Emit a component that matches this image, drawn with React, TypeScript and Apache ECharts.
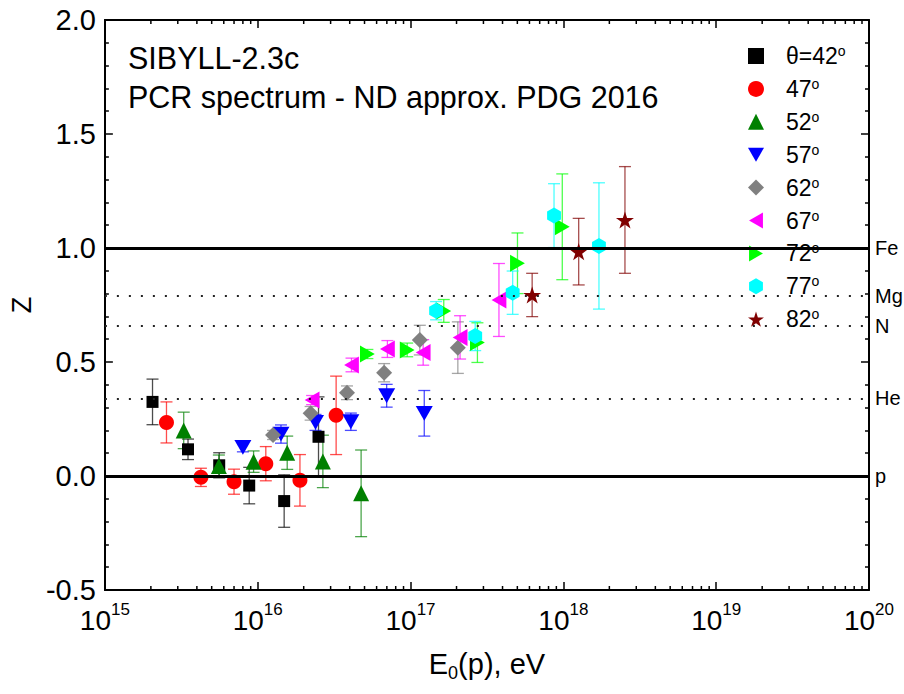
import React, { useEffect, useRef } from 'react';
import * as echarts from 'echarts';

const FONT = '"Liberation Sans", Arial, Helvetica, sans-serif';

// Axis ranges
const X_MIN = 1e15;
const X_MAX = 1e20;
const Y_MIN = -0.5;
const Y_MAX = 2.0;

// Zenith-angle groups
const angleNames = ['θ=42°', '47°', '52°', '57°', '62°', '67°', '72°', '77°', '82°'];

// Primary energy E0 (eV), mean Z and its uncertainty for each zenith angle
const e42 = [2.05e15, 3.5e15, 5.6e15, 8.8e15, 1.49e16, 2.5e16];
const z42 = [0.325, 0.117, 0.047, -0.042, -0.11, 0.172];
const d42 = [0.1, 0.045, 0.055, 0.08, 0.115, 0.175];

const e47 = [2.53e15, 4.25e15, 7.0e15, 1.13e16, 1.89e16, 3.26e16];
const z47 = [0.235, -0.006, -0.025, 0.054, -0.019, 0.266];
const d47 = [0.09, 0.04, 0.055, 0.075, 0.113, 0.172];

const e52 = [3.28e15, 5.57e15, 9.4e15, 1.56e16, 2.67e16, 4.75e16];
const z52 = [0.2, 0.044, 0.063, 0.102, 0.064, -0.076];
const d52 = [0.08, 0.048, 0.047, 0.073, 0.115, 0.19];

const e57 = [8.0e15, 1.42e16, 2.39e16, 4.07e16, 6.98e16, 1.23e17];
const z57 = [0.126, 0.184, 0.235, 0.238, 0.352, 0.275];
const d57 = [0.02, 0.04, 0.035, 0.038, 0.05, 0.1];

const e62 = [1.26e16, 2.22e16, 3.84e16, 6.72e16, 1.15e17, 2.04e17];
const z62 = [0.18, 0.275, 0.365, 0.453, 0.596, 0.563];
const d62 = [0.02, 0.03, 0.03, 0.04, 0.065, 0.113];

const e67 = [2.27e16, 4.11e16, 7.06e16, 1.21e17, 2.11e17, 3.79e17];
const z67 = [0.333, 0.487, 0.557, 0.542, 0.608, 0.772];
const d67 = [0.02, 0.03, 0.037, 0.056, 0.095, 0.16];

const e72 = [5.22e16, 9.51e16, 1.65e17, 2.74e17, 5.01e17, 9.84e17];
const z72 = [0.535, 0.553, 0.724, 0.585, 0.933, 1.093];
const d72 = [0.02, 0.03, 0.05, 0.087, 0.133, 0.232];

const e77 = [1.47e17, 2.65e17, 4.66e17, 8.69e17, 1.71e18];
const z77 = [0.725, 0.614, 0.804, 1.142, 1.009];
const d77 = [0.04, 0.064, 0.095, 0.14, 0.277];

const e82 = [6.25e17, 1.26e18, 2.53e18];
const z82 = [0.794, 0.984, 1.123];
const d82 = [0.095, 0.146, 0.234];

const energies = [e42, e47, e52, e57, e62, e67, e72, e77, e82];
const zValues = [z42, z47, z52, z57, z62, z67, z72, z77, z82];
const zErrors = [d42, d47, d52, d57, d62, d67, d72, d77, d82];

// Reference nuclei: Z = ln A / ln 56
const nucleusNames = ['Fe', 'Mg', 'N', 'He', 'p'];
const nucleusZ = [1.0, 0.7895, 0.6556, 0.3444, 0.0];

// Marker shapes per angle group
const TRI_DOWN = 'path://M0,0 L100,0 L50,87 Z';
const TRI_LEFT = 'path://M87,0 L87,100 L0,50 Z';
const TRI_RIGHT = 'path://M0,0 L0,100 L87,50 Z';
const HEXAGON = 'path://M50,0 L93.3,25 L93.3,75 L50,100 L6.7,75 L6.7,25 Z';
const STAR = 'path://M50,0 L61.2,34.5 L97.6,34.5 L68.2,55.9 L79.4,90.5 L50,69.1 L20.6,90.5 L31.8,55.9 L2.4,34.5 L38.8,34.5 Z';
const markerColors = ['#000000', '#ff0000', '#008000', '#0000ff', '#808080', '#ff00ff', '#00ff00', '#00ffff', '#800000'];
const markerSymbols = ['rect', 'circle', 'triangle', TRI_DOWN, 'diamond', TRI_LEFT, TRI_RIGHT, HEXAGON, STAR];
const markerSizes = [12, 15, 16, 17, 16, 17, 17, 16, 18];

// Logarithmic minor ticks (2..9 × 10^n)
const minorTickValues: number[] = [];
for (let p = 15; p < 20; p++) {
  for (let m = 2; m <= 9; m++) minorTickValues.push(m * Math.pow(10, p));
}

function buildOption() {
  const errorSeries = energies.map((es, i) => ({
    type: 'custom',
    name: 'err-' + i,
    z: 2,
    silent: true,
    data: es.map((x, j) => [x, zValues[i][j], zErrors[i][j]]),
    renderItem: (_params: any, api: any) => {
      const x = api.value(0);
      const y = api.value(1);
      const d = api.value(2);
      const top = api.coord([x, y + d]);
      const bot = api.coord([x, y - d]);
      const w = 6;
      const style = { stroke: markerColors[i], lineWidth: 1.3, opacity: 0.7 };
      return {
        type: 'group',
        children: [
          { type: 'line', shape: { x1: top[0], y1: top[1], x2: bot[0], y2: bot[1] }, style },
          { type: 'line', shape: { x1: top[0] - w, y1: top[1], x2: top[0] + w, y2: top[1] }, style },
          { type: 'line', shape: { x1: bot[0] - w, y1: bot[1], x2: bot[0] + w, y2: bot[1] }, style },
        ],
      };
    },
  }));

  const pointSeries = energies.map((es, i) => ({
    type: 'scatter',
    name: angleNames[i],
    z: 3,
    symbol: markerSymbols[i],
    symbolSize: markerSizes[i],
    symbolKeepAspect: true,
    itemStyle: { color: markerColors[i], opacity: 1 },
    data: es.map((x, j) => [x, zValues[i][j]]),
  }));

  const referenceSeries = {
    type: 'line',
    name: 'nuclei',
    data: [] as number[][],
    silent: true,
    z: 1,
    markLine: {
      silent: true,
      symbol: ['none', 'none'],
      label: {
        show: true,
        position: 'end',
        formatter: '{b}',
        color: '#000',
        fontSize: 20,
        fontFamily: FONT,
        distance: 6,
      },
      data: nucleusNames.map((n, i) => {
        const solid = nucleusZ[i] === 0 || nucleusZ[i] === 1;
        return {
          name: n,
          yAxis: nucleusZ[i],
          lineStyle: solid
            ? { type: 'solid', width: 3, color: '#000' }
            : { type: [2, 10], width: 2, color: '#222' },
        };
      }),
    },
  };

  const minorTickSeries = {
    type: 'custom',
    name: 'minor-ticks',
    z: 5,
    silent: true,
    clip: false,
    data: minorTickValues.map((v) => [v, Y_MIN]),
    renderItem: (_params: any, api: any) => {
      const v = api.value(0);
      const b = api.coord([v, Y_MIN]);
      const t = api.coord([v, Y_MAX]);
      const style = { stroke: '#000', lineWidth: 1.5 };
      return {
        type: 'group',
        children: [
          { type: 'line', shape: { x1: b[0], y1: b[1], x2: b[0], y2: b[1] - 4 }, style },
          { type: 'line', shape: { x1: t[0], y1: t[1], x2: t[0], y2: t[1] + 4 }, style },
        ],
      };
    },
  };

  const axisLine = { show: true, onZero: false, lineStyle: { color: '#000', width: 2 } };
  const axisTick = { show: true, inside: true, length: 8, lineStyle: { color: '#000', width: 1.5 } };

  return {
    animation: false,
    backgroundColor: '#fff',
    grid: { left: 99, right: 35, top: 20, bottom: 104, containLabel: false },
    xAxis: [
      {
        type: 'log',
        logBase: 10,
        min: X_MIN,
        max: X_MAX,
        position: 'bottom',
        axisLine,
        axisTick,
        splitLine: { show: false },
        axisLabel: {
          margin: 11,
          color: '#000',
          fontFamily: FONT,
          fontSize: 28,
          formatter: (v: number) => '10{sup|' + Math.round(Math.log10(v)) + '}',
          rich: {
            sup: { fontSize: 17, fontFamily: FONT, color: '#000', padding: [0, 0, 22, 0] },
          },
        },
        name: 'E{sub|0}(p), eV',
        nameLocation: 'middle',
        nameGap: 56,
        nameTextStyle: {
          color: '#000',
          fontFamily: FONT,
          fontSize: 29,
          rich: {
            sub: { fontSize: 18, fontFamily: FONT, color: '#000', padding: [18, 0, 0, 0] },
          },
        },
      },
      {
        type: 'log',
        logBase: 10,
        min: X_MIN,
        max: X_MAX,
        position: 'top',
        axisLine,
        axisTick,
        splitLine: { show: false },
        axisLabel: { show: false },
      },
    ],
    yAxis: [
      {
        type: 'value',
        min: Y_MIN,
        max: Y_MAX,
        interval: 0.5,
        position: 'left',
        axisLine,
        axisTick,
        minorTick: { show: true, splitNumber: 5, length: 4, lineStyle: { color: '#000', width: 1.5 } },
        splitLine: { show: false },
        minorSplitLine: { show: false },
        axisLabel: {
          margin: 9,
          color: '#000',
          fontFamily: FONT,
          fontSize: 29,
          formatter: (v: number) => v.toFixed(1),
        },
        name: 'Z',
        nameLocation: 'middle',
        nameRotate: 90,
        nameGap: 63,
        nameTextStyle: { color: '#000', fontFamily: FONT, fontSize: 27 },
      },
      {
        type: 'value',
        min: Y_MIN,
        max: Y_MAX,
        interval: 0.5,
        position: 'right',
        axisLine,
        axisTick,
        minorTick: { show: true, splitNumber: 5, length: 4, lineStyle: { color: '#000', width: 1.5 } },
        splitLine: { show: false },
        minorSplitLine: { show: false },
        axisLabel: { show: false },
      },
    ],
    legend: {
      data: angleNames,
      orient: 'vertical',
      left: 730,
      top: 36,
      backgroundColor: '#fff',
      padding: [8, 9, 8, 18],
      itemWidth: 16,
      itemHeight: 16,
      itemGap: 9.4,
      selectedMode: false,
      formatter: (name: string) => '{t|' + name.replace('°', '') + '}{o|o}',
      textStyle: {
        color: '#000',
        fontFamily: FONT,
        fontSize: 23,
        rich: {
          t: { fontSize: 23, lineHeight: 24, fontFamily: FONT, color: '#000', padding: [0, 0, 0, 17] },
          o: { fontSize: 14, lineHeight: 14, verticalAlign: 'top', fontFamily: FONT, color: '#000' },
        },
      },
    },
    graphic: [
      {
        type: 'text',
        left: 128,
        top: 42,
        style: { text: 'SIBYLL-2.3c', fontSize: 30.5, fontFamily: FONT, fill: '#000' },
      },
      {
        type: 'text',
        left: 128,
        top: 81,
        style: { text: 'PCR spectrum - ND approx. PDG 2016', fontSize: 30.5, fontFamily: FONT, fill: '#000' },
      },
    ],
    series: [referenceSeries, ...errorSeries, ...pointSeries, minorTickSeries],
  };
}

export default function App() {
  const ref = useRef<HTMLDivElement>(null);
  useEffect(() => {
    if (!ref.current) return;
    const chart = echarts.init(ref.current, undefined, { renderer: 'svg' });
    chart.setOption(buildOption() as any);
    return () => chart.dispose();
  }, []);
  return (
    <div
      ref={ref}
      style={{ position: 'fixed', left: 0, top: 0, width: 904, height: 694, background: '#fff' }}
    />
  );
}
